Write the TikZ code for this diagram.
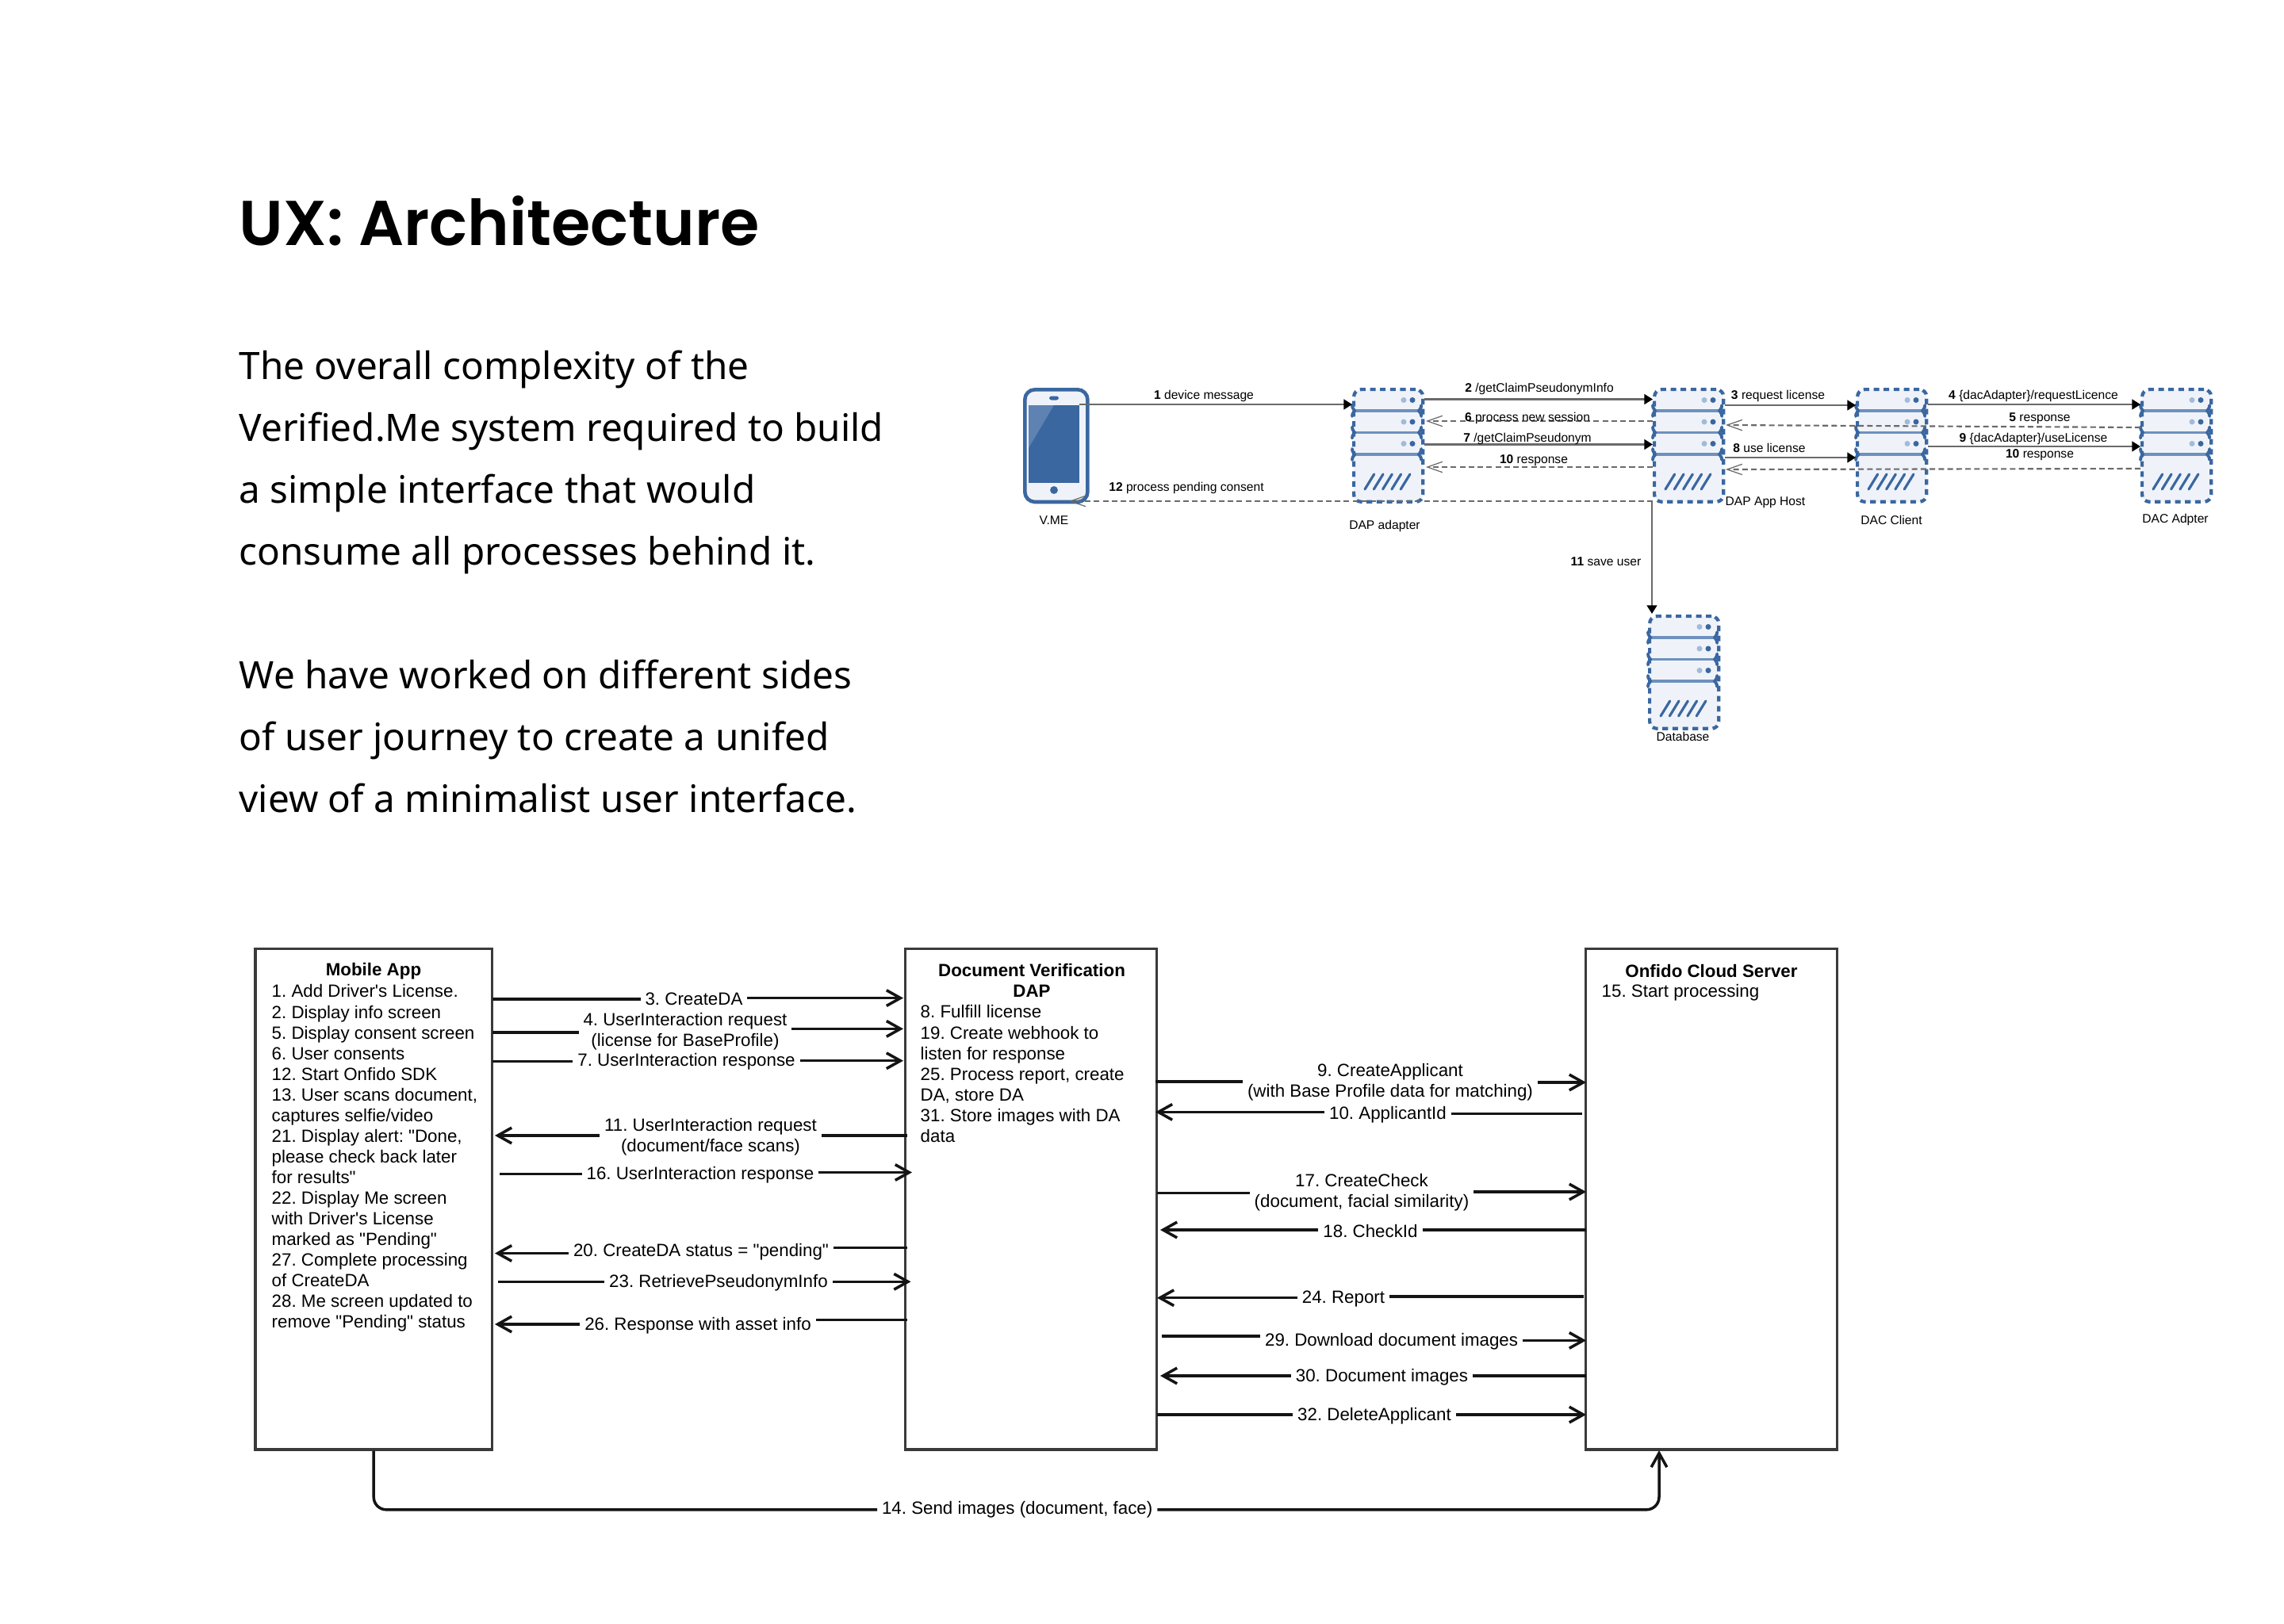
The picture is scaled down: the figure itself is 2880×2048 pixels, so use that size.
\documentclass[tikz,border=0pt]{standalone}
\usepackage{fontspec}
\usetikzlibrary{arrows.meta,calc}
\setmainfont{Liberation Sans}
\newfontfamily\arialfont{Liberation Sans}
\newfontfamily\bodyfont{Noto Sans}
\newfontfamily\titlefont{Poppins SemiBold}
\definecolor{srvblue}{HTML}{3A67A0}
\definecolor{srvmid}{HTML}{6E91BD}
\definecolor{srvlight}{HTML}{A3BAD9}
\definecolor{srvfill}{HTML}{EFF3F9}
\definecolor{scrlight}{HTML}{5E82B2}
\definecolor{boxline}{HTML}{3A3A3A}
\definecolor{topline}{HTML}{6A6A6A}
\newcommand{\lblsize}{\arialfont\frenchspacing\fontsize{6.35pt}{7.41pt}\selectfont}
\newcommand{\topsize}{\arialfont\frenchspacing\fontsize{4.44pt}{5.2pt}\selectfont}
\tikzset{
  x=0.01cm,y=-0.01cm,
  bigbox/.style={draw=boxline,line width=1pt,fill=white,anchor=north west,inner sep=0pt},
  blocktxt/.style={inner sep=0pt,anchor=north west,align=left,font=\lblsize},
  blockttl/.style={inner sep=0pt,align=center,font=\lblsize\bfseries},
  msglbl/.style={inner xsep=1.5pt,inner ysep=0pt,align=center,font=\lblsize,yshift=-0.4pt},
  msgline/.style={line width=1pt,draw=black!92},
  msghead/.style={-{Straight Barb[length=5pt,width=5.6pt,line width=1pt]}},
  toplbl/.style={inner sep=0pt,font=\topsize,yshift=-0.5pt},
  topsolid/.style={line width=0.6pt,draw=topline,-{Triangle[length=3pt,width=3.6pt,color=black,fill=black]}},
  topdash/.style={line width=0.6pt,draw=topline,dash pattern=on 2pt off 1.2pt,-{Straight Barb[length=5.4pt,width=3.8pt,line width=0.35pt]}},
  srvbox/.style={anchor=north west,inner sep=0pt,minimum width=24.8pt,minimum height=40.3pt,rounded corners=2.6pt,fill=srvfill,draw=srvblue,line width=1.2pt,dash pattern=on 2pt off 1.6pt},
  srvdiv/.style={draw=srvmid,line width=1.1pt},
  srvflare/.style={draw=srvblue,line width=1.1pt,line cap=round},
  srvslash/.style={draw=srvblue,line width=0.9pt,line cap=round},
}
\newcommand{\srv}[3]{%
  \node[srvbox] (#1) at (#2,#3) {};
  \begin{scope}[shift={(#2,#3)}]
    \foreach \dy/\dt in {29/15.5,56.5/43,84/70.5}{
      \draw[srvdiv] (3,\dy) -- (84,\dy);
      \draw[srvflare] (0,\dy-7) .. controls (0,\dy-2) and (3,\dy-2) .. (3,\dy) .. controls (3,\dy+2) and (0,\dy+2) .. (0,\dy+7);
      \draw[srvflare] (87.2,\dy-7) .. controls (87.2,\dy-2) and (84.2,\dy-2) .. (84.2,\dy) .. controls (84.2,\dy+2) and (87.2,\dy+2) .. (87.2,\dy+7);
      \fill[srvlight] (65,\dt) circle (1pt);
      \fill[srvblue] (76,\dt) circle (1pt);
    }
    \foreach \sx in {16,27.3,38.6,49.9,61.2}{
      \draw[srvslash] (\sx,128) -- (\sx+11.7,109);
    }
  \end{scope}}
\newcommand{\msgR}[5]{%
  \coordinate (#1a) at (#2); \coordinate (#1b) at (#3);
  \node[msglbl] (#1) at (#4) {#5};
  \draw[msgline] (#1a) -- (#1a -| #1.west);
  \draw[msgline,msghead] (#1b -| #1.east) -- (#1b);}
\newcommand{\msgL}[5]{%
  \coordinate (#1a) at (#2); \coordinate (#1b) at (#3);
  \node[msglbl] (#1) at (#4) {#5};
  \draw[msgline] (#1a) -- (#1a -| #1.east);
  \draw[msgline,msghead] (#1b -| #1.west) -- (#1b);}
\begin{document}
\begin{tikzpicture}
\useasboundingbox (0,0) rectangle (2880,2048);
\fill[white] (0,0) rectangle (2880,2048);
% heading and body
\node[anchor=base west,inner sep=0pt] (title) at (301,309) {\titlefont\fontsize{22.7pt}{26pt}\selectfont UX: Architecture};
\foreach \n/\yy/\tx in {a/478.5/The overall complexity of the,b/556.5/Verified.Me system required to build,c/634.5/a simple interface that would,d/712.5/consume all processes behind it.,e/868.5/We have worked on different sides,f/946.5/of user journey to create a unifed,g/1024.5/view of a minimalist user interface.}{
  \node[anchor=base west,inner sep=0pt] (body\n) at (301,\yy) {\bodyfont\fontsize{13.55pt}{20pt}\selectfont \tx};
}
% phone
\node[anchor=north west,inner sep=0pt,minimum width=22.5pt,minimum height=40.3pt,rounded corners=3.6pt,fill=srvfill,draw=srvblue,line width=1.3pt] (phone) at (1290,489) {};
\fill[srvblue] (1297,511) rectangle (1361,609);
\fill[scrlight] (1297,511) -- (1329,511) -- (1297,565) -- cycle;
\fill[srvblue,rounded corners=0.8pt] (1323,499.5) rectangle (1335,504.5);
\fill[srvblue] (1329,618) circle (1.4pt);
% servers
\srv{dap}{1705}{489}
\srv{host}{2084}{489}
\srv{client}{2340}{489}
\srv{adapter}{2699}{489}
\srv{db}{2078}{775}
% top labels
\node[toplbl] (nvme) at (1329,654) {V.ME};
\node[toplbl] (ndap) at (1746,662) {DAP adapter};
\node[toplbl] (nhost) at (2226,632) {DAP App Host};
\node[toplbl] (nclient) at (2385,654) {DAC Client};
\node[toplbl] (nadapter) at (2743,654) {DAC Adpter};
\node[toplbl] (ndb) at (2122,927) {Database};
\draw[topsolid] (1361,510) -- (dap.west |- 0,510);
\draw[topsolid] (dap.east |- 0,503.5) -- (host.west |- 0,503.5);
\draw[topsolid] (dap.east |- 0,560.5) -- (host.west |- 0,560.5);
\draw[topsolid] (host.east |- 0,511) -- (client.west |- 0,511);
\draw[topsolid] (host.east |- 0,577) -- (client.west |- 0,577);
\draw[topsolid] (client.east |- 0,510) -- (adapter.west |- 0,510);
\draw[topsolid] (client.east |- 0,563) -- (adapter.west |- 0,563);
\draw[topdash] (host.west |- 0,531) -- (1798,531);
\draw[topdash] (host.west |- 0,589) -- (1798,589);
\draw[topdash] (adapter.west |- 0,539) -- (2176,536);
\draw[topdash] (adapter.west |- 0,591) -- (2176,592);
\draw[topdash] (host.west |- 0,632) -- (1348,632);
\draw[topsolid] (2083,632) -- (2083,774);
\node[toplbl] (t1) at (1518,498) {{\bfseries 1} device message};
\node[toplbl] (t2) at (1941,489) {{\bfseries 2} /getClaimPseudonymInfo};
\node[toplbl] (t3) at (2242,498) {{\bfseries 3} request license};
\node[toplbl] (t4) at (2564,498) {{\bfseries 4} \{dacAdapter\}/requestLicence};
\node[toplbl] (t5) at (2572,526) {{\bfseries 5} response};
\node[toplbl] (t6) at (1926,526) {{\bfseries 6} process new session};
\node[toplbl] (t7) at (1926,552) {{\bfseries 7} /getClaimPseudonym};
\node[toplbl] (t8) at (2231,563) {{\bfseries 8} use license};
\node[toplbl] (t9) at (2564,551.5) {{\bfseries 9} \{dacAdapter\}/useLicense};
\node[toplbl] (t10a) at (1934,579) {{\bfseries 10} response};
\node[toplbl] (t10b) at (2572,572) {{\bfseries 10} response};
\node[toplbl] (t11) at (2025,706) {{\bfseries 11} save user};
\node[toplbl] (t12) at (1496,614) {{\bfseries 12} process pending consent};
% bottom boxes
\node[bigbox,minimum width=85pt,minimum height=179.6pt] (mob) at (320,1194.5) {};
\node[bigbox,minimum width=90.2pt,minimum height=179.6pt] (doc) at (1139.5,1194.5) {};
\node[bigbox,minimum width=90.2pt,minimum height=179.6pt] (onf) at (1997.5,1194.5) {};
\node[blockttl] (mobt) at (471,1225) {Mobile App};
\node[blocktxt] (mobx) at (342,1239) {\strut 1. Add Driver's License.\\2. Display info screen\\5. Display consent screen\\6. User consents\\12. Start Onfido SDK\\13. User scans document,\\captures selfie/video\\21. Display alert: "Done,\\please check back later\\for results"\\22. Display Me screen\\with Driver's License\\marked as "Pending"\\27. Complete processing\\of CreateDA\\28. Me screen updated to\\remove "Pending" status};
\node[blockttl] (doct) at (1301,1236) {Document Verification\\DAP};
\node[blocktxt] (docx) at (1160,1265) {\strut 8. Fulfill license\\19. Create webhook to\\listen for response\\25. Process report, create\\DA, store DA\\31. Store images with DA\\data};
\node[blockttl] (onft) at (2158,1225) {Onfido Cloud Server};
\node[blocktxt] (onfx) at (2019,1239) {\strut 15. Start processing};
% messages
\msgR{m3}{621,1260}{1139,1258.6}{875,1258.6}{3. CreateDA}
\msgR{m4}{621,1302}{1139,1297.4}{864,1299.4}{4. UserInteraction request\\(license for BaseProfile)}
\msgR{m7}{621,1338.7}{1139,1337.7}{865.5,1337}{7. UserInteraction response}
\msgL{m11}{1144,1432}{624,1432}{896,1432}{11. UserInteraction request\\(document/face scans)}
\msgR{m16}{630,1480.5}{1150,1478.5}{883,1480.5}{16. UserInteraction response}
\msgL{m20}{1144,1573.5}{624,1580.5}{884,1577}{20. CreateDA status = "pending"}
\msgR{m23}{628,1616.3}{1148.5,1616.3}{906,1616.3}{23. RetrievePseudonymInfo}
\msgL{m26}{1144,1664.6}{624,1670}{880,1670}{26. Response with asset info}
\msgR{m9}{1457,1364}{2000,1365}{1753,1363}{9. CreateApplicant\\(with Base Profile data for matching)}
\msgL{m10}{1994.5,1404.4}{1457,1402.4}{1750,1404}{10. ApplicantId}
\msgR{m17}{1459,1504.4}{2000,1503}{1717,1502.4}{17. CreateCheck\\(document, facial similarity)}
\msgL{m18}{2000,1551}{1463,1551}{1728,1551}{18. CheckId}
\msgL{m24}{1997,1635}{1459,1636.7}{1694,1636.7}{24. Report}
\msgR{m29}{1465,1685}{2000,1690.4}{1754.6,1690.4}{29. Download document images}
\msgL{m30}{2000,1735}{1463,1735}{1742.5,1735}{30. Document images}
\msgR{m32}{1459,1784}{2000,1784}{1733,1784}{32. DeleteApplicant}
\node[msglbl] (m14) at (1282.7,1902.4) {14. Send images (document, face)};
\coordinate (m14e) at (2092,1829);
\draw[msgline,rounded corners=4.5pt] (mob.south) -- (mob.south |- m14.west) -- (m14.west);
\draw[msgline,rounded corners=4.5pt,msghead] (m14.east) -- (m14e |- m14.east) -- (m14e);
\end{tikzpicture}
\end{document}
